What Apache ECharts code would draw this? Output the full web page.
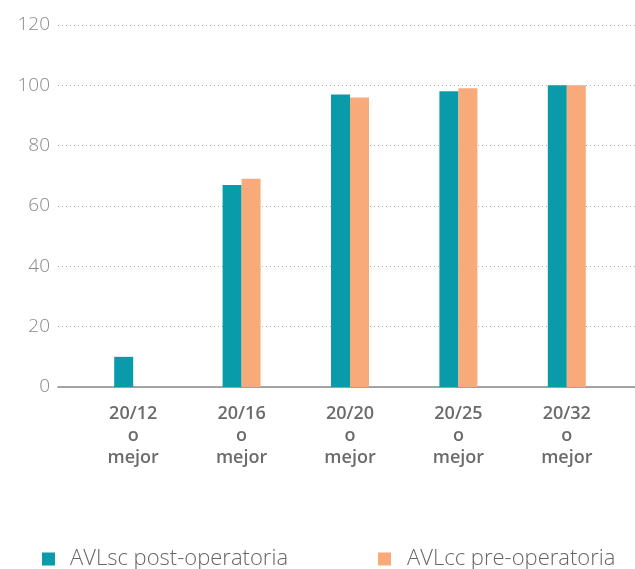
<!DOCTYPE html>
<html>
<head>
<meta charset="utf-8">
<script src="https://cdn.jsdelivr.net/npm/echarts@6/dist/echarts.min.js"></script>
<style>
html,body{margin:0;padding:0;background:#fff;}
#chart{width:635px;height:569px;}
</style>
</head>
<body>
<div id="chart"></div>
<script>
const categories = ['20/12\no\nmejor', '20/16\no\nmejor', '20/20\no\nmejor', '20/25\no\nmejor', '20/32\no\nmejor'];
const postOp = [10, 67, 97, 98, 100];
const preOp = [0, 69, 96, 99, 100];
const seriesNames = ['AVLsc post-operatoria', 'AVLcc pre-operatoria'];
const yTicks = { min: 0, max: 120, interval: 20 };

const teal = '#0a9bab';
const orange = '#f8aa7a';
const font = '"Open Sans", "Noto Sans", sans-serif';

const chart = echarts.init(document.getElementById('chart'));
chart.setOption({
  animation: false,
  backgroundColor: '#fff',
  grid: [
    { left: 58, right: 0, top: 25, bottom: 182 },
    { left: 79, right: 14, top: 25, bottom: 182 }
  ],
  legend: [
    {
      data: [seriesNames[0]], left: 37, top: 543, itemWidth: 13, itemHeight: 13, icon: 'rect',
      textStyle: { fontFamily: font, fontSize: 22, fontWeight: 300, color: '#666', padding: [0, 0, 0, 10] }
    },
    {
      data: [seriesNames[1]], left: 373, top: 543, itemWidth: 13, itemHeight: 13, icon: 'rect',
      textStyle: { fontFamily: font, fontSize: 22, fontWeight: 300, color: '#666', padding: [0, 0, 0, 11] }
    }
  ],
  xAxis: [
    {
      gridIndex: 0, type: 'value', min: 0, max: 1,
      axisLine: { show: true, onZero: false, lineStyle: { color: '#888', width: 1.5 } },
      axisTick: { show: false }, axisLabel: { show: false }, splitLine: { show: false }
    },
    {
      gridIndex: 1, type: 'category', data: categories,
      axisLine: { show: false }, axisTick: { show: false }, splitLine: { show: false },
      axisLabel: {
        fontFamily: font, fontSize: 18, fontWeight: 600, color: '#6b6b6b',
        lineHeight: 22, margin: 16, interval: 0
      }
    }
  ],
  yAxis: [
    {
      gridIndex: 0, type: 'value', min: yTicks.min, max: yTicks.max, interval: yTicks.interval,
      axisLine: { show: false }, axisTick: { show: false },
      axisLabel: { fontFamily: font, fontSize: 19, fontWeight: 300, color: '#8a8a8a', margin: 8 },
      splitLine: { show: true, lineStyle: { color: '#b0b0b0', type: [1, 3], width: 1 } }
    },
    {
      gridIndex: 1, type: 'value', min: yTicks.min, max: yTicks.max, interval: yTicks.interval,
      show: false, splitLine: { show: false }
    }
  ],
  series: [
    {
      name: seriesNames[0], type: 'bar', xAxisIndex: 1, yAxisIndex: 1,
      data: postOp, barWidth: 19, barGap: '0%', itemStyle: { color: teal }
    },
    {
      name: seriesNames[1], type: 'bar', xAxisIndex: 1, yAxisIndex: 1,
      data: preOp, barWidth: 19, barGap: '0%', itemStyle: { color: orange }
    }
  ]
});
</script>
</body>
</html>
